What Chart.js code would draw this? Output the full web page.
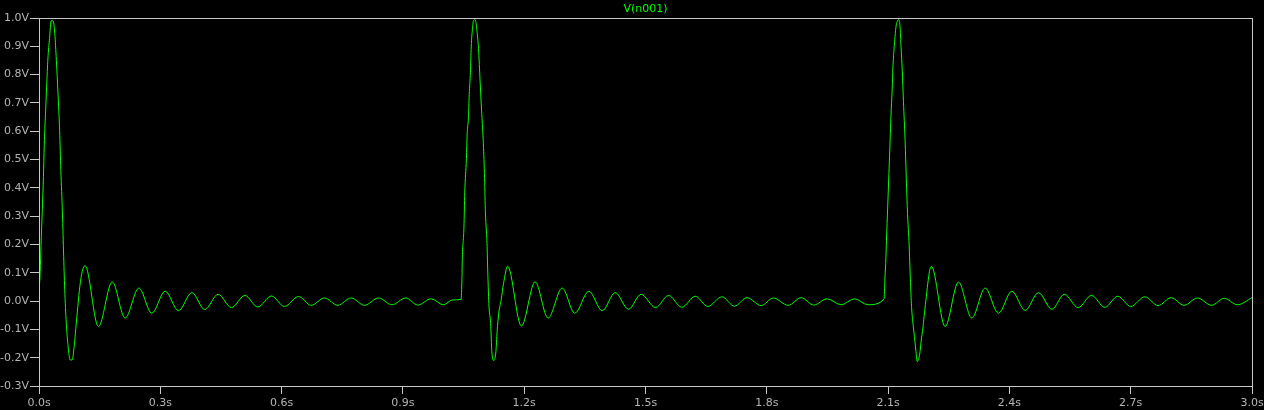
<!DOCTYPE html>
<html>
<head>
<meta charset="utf-8">
<title>V(n001)</title>
<script src="https://cdn.jsdelivr.net/npm/chart.js@4/dist/chart.umd.min.js"></script>
<style>
  html, body { margin: 0; padding: 0; background: #000; }
  canvas { display: block; }
</style>
</head>
<body>
<canvas id="chart-vn001" width="1264" height="410"></canvas>
<script>
// values: time in s, voltage in V
const cycle1T = [0, 0.003, 0.005, 0.008, 0.011, 0.013, 0.016, 0.019, 0.022, 0.026, 0.030, 0.035, 0.039, 0.043,
  0.047, 0.051, 0.054, 0.058, 0.061, 0.064, 0.068, 0.072, 0.077, 0.082, 0.087, 0.091, 0.096, 0.101, 0.107, 0.114,
  0.147, 0.181, 0.213, 0.247, 0.279, 0.312, 0.345, 0.378, 0.410, 0.443, 0.476, 0.509, 0.541, 0.575, 0.607, 0.642,
  0.673, 0.706, 0.739, 0.772, 0.805, 0.840, 0.873, 0.907, 0.937, 0.970, 1.000, 1.023, 1.044];
const cycle1V = [0.03, 0.105, 0.197, 0.316, 0.44, 0.55, 0.66, 0.76, 0.856, 0.927, 0.99, 0.99, 0.945, 0.85,
  0.733, 0.603, 0.462, 0.31, 0.158, 0.027, -0.09, -0.16, -0.208, -0.208, -0.16, -0.096, -0.019, 0.052, 0.105, 0.125,
  -0.09, 0.068, -0.06, 0.046, -0.043, 0.035, -0.034, 0.03, -0.03, 0.024, -0.023, 0.02, -0.021, 0.018, -0.019, 0.016,
  -0.015, 0.011, -0.015, 0.011, -0.015, 0.011, -0.013, 0.011, -0.014, 0.008, -0.013, 0.004, 0.006];

const cycle2T = [1.046, 1.047, 1.051, 1.053, 1.057, 1.059, 1.062, 1.064, 1.067, 1.069, 1.072, 1.075, 1.079, 1.083,
  1.087, 1.091, 1.095, 1.099, 1.102, 1.104, 1.108, 1.110, 1.113, 1.117, 1.120, 1.125, 1.130, 1.133, 1.137, 1.143,
  1.149, 1.159, 1.193, 1.227, 1.259, 1.294, 1.325, 1.360, 1.393, 1.425, 1.458, 1.489, 1.525, 1.557, 1.590, 1.623,
  1.654, 1.689, 1.720, 1.751, 1.786, 1.816, 1.853, 1.885, 1.916, 1.949, 1.984, 2.017, 2.050, 2.090];
const cycle2V = [0.08, 0.153, 0.262, 0.382, 0.503, 0.592, 0.647, 0.729, 0.809, 0.898, 0.962, 0.992, 0.994, 0.956,
  0.892, 0.774, 0.662, 0.556, 0.433, 0.315, 0.204, 0.098, -0.02, -0.079, -0.179, -0.21, -0.179, -0.108, -0.043, 0.004,
  0.063, 0.123, -0.088, 0.068, -0.06, 0.046, -0.043, 0.035, -0.034, 0.03, -0.029, 0.024, -0.023, 0.02, -0.022, 0.017,
  -0.019, 0.015, -0.018, 0.012, -0.016, 0.011, -0.015, 0.012, -0.014, 0.008, -0.013, 0.008, -0.013, 0.007];

const cycle3T = [2.092, 2.094, 2.096, 2.099, 2.102, 2.105, 2.107, 2.110, 2.112, 2.115, 2.117, 2.120, 2.123, 2.126,
  2.130, 2.132, 2.135, 2.138, 2.142, 2.145, 2.148, 2.152, 2.155, 2.158, 2.162, 2.166, 2.169, 2.172, 2.176, 2.179,
  2.182, 2.186, 2.189, 2.207, 2.241, 2.274, 2.307, 2.340, 2.373, 2.406, 2.439, 2.472, 2.505, 2.536, 2.570, 2.603,
  2.636, 2.668, 2.700, 2.735, 2.768, 2.800, 2.832, 2.865, 2.900, 2.931, 2.964, 3.000];
const cycle3V = [0.074, 0.133, 0.215, 0.333, 0.451, 0.568, 0.651, 0.745, 0.827, 0.898, 0.933, 0.974, 0.989, 0.994,
  0.962, 0.898, 0.815, 0.704, 0.568, 0.433, 0.31, 0.198, 0.08, -0.02, -0.085, -0.138, -0.179, -0.214, -0.202, -0.179,
  -0.138, -0.096, -0.055, 0.123, -0.09, 0.067, -0.06, 0.046, -0.043, 0.035, -0.033, 0.03, -0.029, 0.024, -0.023, 0.02,
  -0.022, 0.017, -0.019, 0.015, -0.016, 0.012, -0.015, 0.011, -0.015, 0.01, -0.013, 0.012];

const timeS = [...cycle1T, ...cycle2T, ...cycle3T];
const voltsV = [...cycle1V, ...cycle2V, ...cycle3V];

const AXIS = '#c8c8c8';
const LABEL = '#b4b4b4';
const TRACE = '#00ff00';

Chart.defaults.font.family = "'DejaVu Sans', sans-serif";
Chart.defaults.font.size = 11;

// LTspice draws a full box round the plot
const frameBox = {
  id: 'frameBox',
  afterDraw(chart) {
    const { ctx, chartArea: a } = chart;
    ctx.save();
    ctx.strokeStyle = AXIS;
    ctx.lineWidth = 1;
    ctx.strokeRect(Math.round(a.left) + 0.5, Math.round(a.top) + 0.5,
      Math.round(a.right) - Math.round(a.left), Math.round(a.bottom) - Math.round(a.top));
    ctx.restore();
  }
};

const fmt = (v, unit) => (Math.abs(v) < 1e-9 ? 0 : v).toFixed(1) + unit;

new Chart(document.getElementById('chart-vn001'), {
  type: 'line',
  data: {
    datasets: [{
      label: 'V(n001)',
      data: timeS.map((t, i) => ({ x: t, y: voltsV[i] })),
      borderColor: TRACE,
      borderWidth: 1,
      pointRadius: 0,
      fill: false,
      cubicInterpolationMode: 'monotone'
    }]
  },
  options: {
    responsive: false,
    animation: false,
    layout: { padding: { left: 0, right: 12, top: 0, bottom: 0 } },
    plugins: {
      legend: { display: false },
      tooltip: { enabled: false },
      title: {
        display: true,
        text: 'V(n001)',
        color: TRACE,
        fullSize: false,
        font: { size: 11, weight: 'normal' },
        padding: { top: 3, bottom: 1.8 }
      }
    },
    scales: {
      x: {
        type: 'linear',
        min: 0, max: 3,
        afterFit: (s) => { s.height = 24; s.paddingLeft = 0; s.paddingRight = 0; },
        border: { display: false },
        grid: { drawOnChartArea: false, drawTicks: true, tickLength: 8, color: AXIS },
        ticks: {
          stepSize: 0.3, color: LABEL, padding: 3, maxRotation: 0, autoSkip: false,
          callback: (v) => fmt(v, 's')
        }
      },
      y: {
        min: -0.3, max: 1.0,
        afterFit: (s) => { s.width = 39; s.paddingTop = 0; s.paddingBottom = 0; },
        border: { display: false },
        grid: { drawOnChartArea: false, drawTicks: true, tickLength: 9, color: AXIS },
        ticks: {
          stepSize: 0.1, color: LABEL, padding: 1, autoSkip: false,
          callback: (v) => fmt(v, 'V')
        }
      }
    }
  },
  plugins: [frameBox]
});
</script>
</body>
</html>
